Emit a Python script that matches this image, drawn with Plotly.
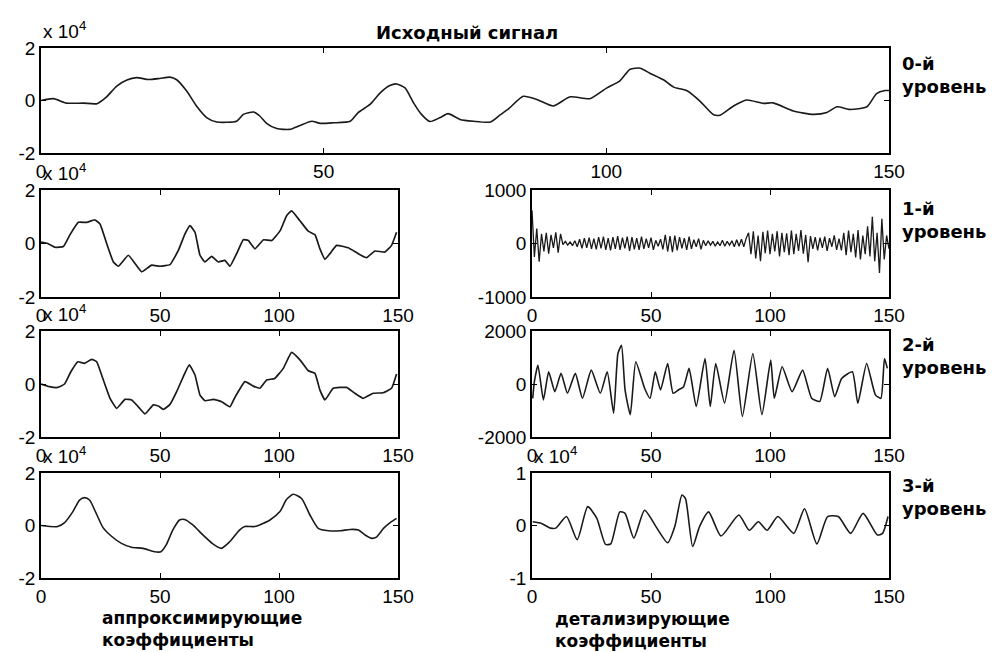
import plotly.graph_objects as go

# ---------------- data ----------------
# original signal, values in units of 10^4
sig_x = [0, 2.2, 4.5, 7.5, 9.9, 11.6, 13.4, 15.2, 16.9, 19, 21, 22.8, 24, 25.8, 27.5, 29.3, 31.1,
         34.6, 35.8, 37.6, 38.7, 39.9, 41.7, 44, 45.8, 47.9, 49.4, 51.7, 54.7, 56.1, 58.2, 60, 61.7,
         62.9, 64.4, 65.9, 67.3, 68.8, 70.6, 72, 74.1, 76.5, 79.5, 81.2, 82.8, 85.3, 87.7, 90.6, 93.6,
         97.1, 100.1, 102.4, 104.2, 106, 107.7, 110.1, 111.9, 114.2, 116.6, 118.9, 120.1, 122.5, 124.8,
         127.8, 129.5, 133.1, 136.6, 139, 140.8, 143.1, 146.1, 147.8, 149.3, 150]
sig_y = [0.0, 0.07, -0.1, -0.1, -0.12, 0.14, 0.55, 0.78, 0.87, 0.8, 0.84, 0.89, 0.79, 0.35, -0.21, -0.65,
         -0.82, -0.79, -0.53, -0.44, -0.59, -0.87, -1.07, -1.1, -0.95, -0.79, -0.87, -0.85, -0.79, -0.46,
         -0.15, 0.29, 0.57, 0.63, 0.48, -0.09, -0.53, -0.8, -0.65, -0.5, -0.72, -0.79, -0.82, -0.55, -0.3,
         0.16, 0.04, -0.21, 0.14, 0.07, 0.48, 0.75, 1.19, 1.23, 1.04, 0.79, 0.51, 0.38, -0.03, -0.53,
         -0.56, -0.21, 0.02, -0.11, -0.09, -0.4, -0.53, -0.46, -0.24, -0.34, -0.24, 0.26, 0.38, 0.38]

# approximation coefficients, levels 1-3 (units of 10^4)
a1_x = [0, 2.8, 5.9, 9.4, 12.2, 15.7, 19.2, 22.7, 24.8, 27.6, 30.4, 32.5, 36.7, 39.5, 42.3, 46.5, 50,
        54.2, 57.7, 60.5, 62.6, 64.7, 66.8, 68.9, 71.7, 74.5, 77.3, 79.4, 82.2, 85, 87.1, 89.9, 93.5,
        96.9, 100.5, 103.2, 105.3, 108.8, 112.3, 115.1, 117.2, 119.3, 121.4, 124.2, 129.1, 133.3, 136.8,
        140.3, 144.5, 147.3, 149.4]
a1_y = [0.05, 0, -0.14, -0.11, 0.33, 0.79, 0.79, 0.88, 0.73, 0, -0.69, -0.85, -0.44, -0.75, -1.06,
        -0.81, -0.85, -0.79, -0.26, 0.36, 0.67, 0.42, -0.44, -0.69, -0.48, -0.69, -0.63, -0.85, -0.38,
        0.14, 0.11, -0.2, 0.14, 0.11, 0.48, 1.04, 1.22, 0.85, 0.46, 0.33, -0.2, -0.59, -0.38, -0.07,
        -0.16, -0.38, -0.53, -0.28, -0.32, -0.07, 0.42]

a2_x = [0, 3.5, 7, 9.9, 12.6, 15.5, 18.3, 21.3, 23.4, 26.2, 29, 31.8, 35.3, 38.1, 40.9, 43.7, 47.2,
        49.3, 51.4, 54.2, 57, 59.8, 62.3, 64.7, 66.8, 68.9, 72.4, 75.9, 79.4, 81.5, 85.7, 89.2, 92,
        94.8, 98.2, 101.8, 105.3, 108.8, 112.3, 115.1, 117.2, 119.3, 122.8, 128.4, 131.9, 135.4, 139.6,
        143.8, 147.3, 149.4]
a2_y = [0, -0.1, -0.13, 0, 0.47, 0.84, 0.78, 0.93, 0.84, 0.15, -0.54, -0.92, -0.58, -0.6, -0.86,
        -1.13, -0.79, -0.83, -0.96, -0.77, -0.29, 0.28, 0.72, 0.34, -0.42, -0.63, -0.58, -0.67, -0.86,
        -0.5, 0.09, -0.08, -0.16, 0.15, 0.21, 0.59, 1.19, 0.91, 0.5, 0.4, -0.23, -0.6, -0.16, -0.13,
        -0.35, -0.54, -0.35, -0.33, -0.16, 0.38]

a3_x = [0, 7, 9.9, 13.4, 16.2, 18.3, 20.4, 23.2, 26, 29.5, 33.8, 38, 42.9, 47.7, 50.4, 52.6, 55.4,
        58.2, 60.3, 63.8, 68, 72.2, 75.8, 79.3, 83.5, 85.6, 89.8, 93.3, 96.2, 100.4, 103.2, 106, 109.5,
        113, 116.5, 120.8, 125.7, 129.9, 133.4, 136.2, 139, 141.1, 143.9, 146.7, 149.4]
a3_y = [0, -0.04, 0.11, 0.53, 0.97, 1.06, 0.97, 0.46, -0.07, -0.4, -0.68, -0.83, -0.87, -1.0, -1.0,
        -0.74, -0.17, 0.21, 0.23, 0.02, -0.36, -0.7, -0.87, -0.62, -0.17, -0.04, -0.04, 0.08, 0.21, 0.53,
        1.0, 1.19, 1.03, 0.4, -0.11, -0.2, -0.2, -0.15, -0.17, -0.36, -0.49, -0.43, -0.11, 0.11, 0.27]

# detail coefficients
d1_x = list(range(151))
d1_y = [620, -250, 280, -340, 180, -150, 200, -190, 160, -80, 210, -170, 180, -20, 40, -30, 30, -40,
        50, -60, 80, -90, 100, -80, 110, -100, 90, -110, 120, -90, 130, -120, 100, -130, 120, -100,
        140, -120, 110, -90, 130, -140, 120, -110, 100, -120, 130, -100, 90, -80, 110, -120, 60, -50,
        80, -110, 160, -150, 140, -160, 150, -130, 120, -90, 100, -120, 130, -100, 70, -60, 90, -110,
        60, -40, 50, -30, 40, -50, 30, -40, 60, -50, 40, -30, 50, -60, 70, -50, 80, -60, 100, 200,
        -200, 230, -280, 150, -330, 220, -180, 240, -200, 180, -150, 230, -240, 200, -160, 190, -220,
        240, -200, 180, -140, 250, -190, 160, -350, 140, -100, 120, -130, 110, -80, 130, -140, 100,
        -60, 150, -120, 90, -130, 200, -220, 240, -160, 180, -260, 250, -300, 150, -200, 320, -240,
        500, -330, 200, -550, 460, -300, 150, -100]

d2_x = [0.3, 1.0, 2.5, 4.8, 7.0, 9.6, 12.2, 14.9, 18.2, 21.2, 24.9, 28.7, 31.6, 34.3, 36.1, 37.6,
        39.1, 41.3, 43.6, 47.3, 49.6, 51.8, 54.0, 57.0, 59.3, 61.5, 63.7, 66.0, 69.0, 72.7, 74.9, 77.2,
        80.9, 84.9, 88.4, 92.8, 96.6, 100.3, 101.8, 105.1, 109.3, 113.7, 117.5, 120.9, 124.2, 127.2,
        130.1, 134.6, 136.9, 140.6, 144.3, 146.6, 148.1, 149.3]
d2_y = [-540, 90, 710, -600, 460, -290, 400, -350, 400, -540, 525, -350, 460, -1100, 1150, 1460,
        -225, -1160, 840, -160, -540, 460, -225, 775, -350, -225, -100, 590, -850, 960, -850, 775,
        -725, 1275, -1225, 1150, -1160, 900, -540, 650, -290, 525, -540, -660, 590, -475, 210, 460,
        -725, 775, -410, -540, 960, 590]

# level-3 detail, units of 10^4
d3_x = [0.3, 4.0, 7.8, 10.0, 14.5, 19.0, 23.4, 27.2, 30.9, 33.1, 36.9, 39.1, 42.8, 47.3, 52.5, 57.0,
        60.0, 63.0, 64.5, 67.5, 70.4, 74.2, 79.4, 86.9, 91.3, 95.1, 98.8, 103.3, 110.0, 114.5, 119.7,
        124.2, 128.7, 133.9, 139.1, 145.1, 147.3, 149.6]
d3_y = [0.07, 0.04, -0.05, -0.05, 0.17, -0.27, 0.36, 0.14, -0.36, -0.35, 0.26, 0.23, -0.24, 0.29,
        -0.05, -0.33, -0.02, 0.58, 0.51, -0.4, -0.02, 0.26, -0.2, 0.2, -0.09, 0.07, -0.09, 0.17, -0.15,
        0.32, -0.35, 0.17, 0.17, -0.15, 0.23, -0.18, -0.15, 0.17]

x_ticks = [0, 50, 100, 150]
title_text = "Исходный сигнал"
level_labels = ["0-й<br>уровень", "1-й<br>уровень", "2-й<br>уровень", "3-й<br>уровень"]
approx_label = "аппроксимирующие<br>коэффициенты"
detail_label = "детализирующие<br>коэффициенты"
mult_text = "x 10<sup>4</sup>"

# ---------------- layout geometry (pixels of the photographed window) ----------------
W, H = 998, 652
OFF = 8  # the page body margin shifts the figure by 8 px
def px(x): return (x - OFF) / W
def py(y): return 1 - (y - OFF) / H

LEFT = (41, 398)
RIGHT = (532, 889)
FULL = (41, 889)
ROWS = [(48, 153), (190, 297), (331, 437), (473, 578)]

panels = [
    # (xs, ys, xpix, row, yrange, yticks, yticktext, smoothing, width, mult)
    (sig_x, sig_y, FULL, 0, [-2, 2], [-2, 0, 2], ["-2", "0", "2"], 0.6, 1.6, True),
    (a1_x, a1_y, LEFT, 1, [-2, 2], [-2, 0, 2], ["-2", "0", "2"], 0.35, 1.7, True),
    (d1_x, d1_y, RIGHT, 1, [-1000, 1000], [-1000, 0, 1000], ["-1000", "0", "1000"], 0, 1.3, False),
    (a2_x, a2_y, LEFT, 2, [-2, 2], [-2, 0, 2], ["-2", "0", "2"], 0.35, 1.7, True),
    (d2_x, d2_y, RIGHT, 2, [-2000, 2000], [-2000, 0, 2000], ["-2000", "0", "2000"], 0.5, 1.6, False),
    (a3_x, a3_y, LEFT, 3, [-2, 2], [-2, 0, 2], ["-2", "0", "2"], 0.6, 1.6, True),
    (d3_x, d3_y, RIGHT, 3, [-1, 1], [-1, 0, 1], ["-1", "0", "1"], 0.6, 1.6, True),
]

TICK_FONT = dict(family="Liberation Sans, Arial, sans-serif", size=19, color="#000")
BOLD_FONT = dict(family="DejaVu Sans, sans-serif", size=18, color="#000", weight="bold")
BOTTOM_FONT = dict(family="DejaVu Sans, sans-serif", size=17, color="#000", weight="bold")

fig = go.Figure()
layout = dict(width=W, height=H, margin=dict(l=0, r=0, t=0, b=0, pad=0, autoexpand=False),
              paper_bgcolor="white", plot_bgcolor="white", showlegend=False)
annotations = []

for i, (xs, ys, xpix, row, yr, yt, ytt, smooth, lw, mult) in enumerate(panels):
    n = "" if i == 0 else str(i + 1)
    line = dict(color="#1a1a1a", width=lw)
    if smooth:
        line.update(shape="spline", smoothing=smooth)
    fig.add_trace(go.Scatter(x=xs, y=ys, mode="lines", line=line,
                             xaxis="x" + n, yaxis="y" + n, hoverinfo="skip"))
    top, bot = ROWS[row]
    common = dict(showline=True, linecolor="#000", linewidth=1.5, mirror="ticks",
                  ticks="inside", ticklen=5, tickwidth=1.2, tickcolor="#000", automargin=False,
                  showgrid=False, zeroline=False, tickfont=TICK_FONT, fixedrange=True)
    layout["xaxis" + n] = dict(domain=[px(xpix[0]), px(xpix[1])], anchor="y" + n,
                               range=[0, 150], tickvals=x_ticks,
                               ticktext=[str(v) for v in x_ticks], **common)
    layout["yaxis" + n] = dict(domain=[py(bot), py(top)], anchor="x" + n,
                               range=yr, tickvals=yt, ticktext=ytt, **common)
    if mult:
        annotations.append(dict(text=mult_text, xref="paper", yref="paper",
                                x=px(xpix[0]), y=py(top), xanchor="left", yanchor="bottom",
                                yshift=4, showarrow=False, font=TICK_FONT))

# right-hand level labels
label_centres = [75, 220, 356, 497]
for txt, yc in zip(level_labels, label_centres):
    annotations.append(dict(text=txt, xref="paper", yref="paper", x=px(900), y=py(yc),
                            xanchor="left", yanchor="middle", align="left",
                            showarrow=False, font=BOLD_FONT))

annotations.append(dict(text=title_text, xref="paper", yref="paper",
                        x=px(467), y=py(32), xanchor="center", yanchor="middle",
                        showarrow=False, font=BOLD_FONT))
annotations.append(dict(text=approx_label, xref="paper", yref="paper", x=px(100), y=py(629),
                        xanchor="left", yanchor="middle", align="left",
                        showarrow=False, font=BOTTOM_FONT))
annotations.append(dict(text=detail_label, xref="paper", yref="paper", x=px(553), y=py(630),
                        xanchor="left", yanchor="middle", align="left",
                        showarrow=False, font=BOTTOM_FONT))

layout["annotations"] = annotations
fig.update_layout(**layout)
fig.write_html("out.html")
